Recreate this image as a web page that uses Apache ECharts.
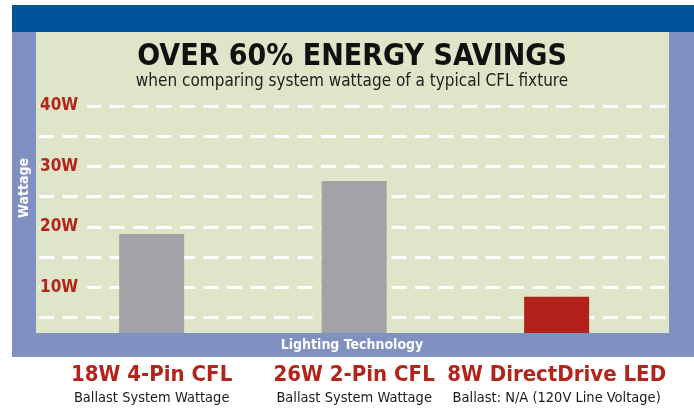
<!DOCTYPE html>
<html>
<head>
<meta charset="utf-8">
<script src="https://cdn.jsdelivr.net/npm/echarts@6/dist/echarts.min.js"></script>
<style>
  html, body { margin: 0; padding: 0; background: #fff; }
  #container { width: 694px; height: 411px; }
</style>
</head>
<body>
<div id="container"></div>
<script>
// data
const categories = ['18W 4-Pin CFL', '26W 2-Pin CFL', '8W DirectDrive LED'];
const subLabels = ['Ballast System Wattage', 'Ballast System Wattage', 'Ballast: N/A (120V Line Voltage)'];
const wattage = [18.8, 27.6, 8.4];
const barColors = ['#a2a3a7', '#a2a3a7', '#b2221a'];
const yMin = 0;
const yMax = 40;
const yStep = 5;

const NARROW = '"Liberation Sans Narrow", "DejaVu Sans Condensed", sans-serif';
const RED = '#b3241b';
const FRAME = '#7f90c1';
const PLOT = '#dfe5c8';

let dom = document.getElementById('container');
let myChart = echarts.init(dom);

// grid 0 carries the dashed lines across the whole plot, grid 1 carries the bars
const gridTop = 106;
const gridBottom = 63.4;

let option = {
  animation: false,
  title: {
    text: 'OVER 60% ENERGY SAVINGS',
    subtext: 'when comparing system wattage of a typical CFL fixture',
    left: 347,
    top: 37,
    textAlign: 'center',
    itemGap: 1,
    textStyle: { fontFamily: NARROW, fontWeight: 'bold', fontSize: 30, color: '#111' },
    subtextStyle: { fontFamily: NARROW, fontSize: 17, color: '#222' }
  },
  grid: [
    { left: 36, right: 25, top: gridTop, bottom: gridBottom },
    { left: 50.4, right: 36.1, top: gridTop, bottom: gridBottom }
  ],
  xAxis: [
    { gridIndex: 0, type: 'value', show: false },
    {
      gridIndex: 1,
      type: 'category',
      data: categories,
      axisLine: { show: false },
      axisTick: { show: false },
      axisLabel: {
        interval: 0,
        margin: 15,
        formatter: function (value, idx) {
          return '{n|' + value + '}\n{s|' + subLabels[idx] + '}';
        },
        rich: {
          n: { fontFamily: NARROW, fontWeight: 'bold', fontSize: 22, lineHeight: 26, color: RED },
          s: { fontFamily: NARROW, fontSize: 14.5, lineHeight: 20, color: '#1a1a1a' }
        }
      }
    }
  ],
  yAxis: [
    {
      gridIndex: 0,
      type: 'value',
      min: yMin,
      max: yMax,
      interval: yStep,
      axisLine: { show: false },
      axisTick: { show: false },
      axisLabel: {
        inside: true,
        margin: 4,
        verticalAlign: 'middle',
        fontFamily: NARROW,
        fontWeight: 'bold',
        fontSize: 17,
        color: RED,
        backgroundColor: PLOT,
        padding: [0, 9, 0, 0],
        formatter: function (v) {
          return v > 0 && v % 10 === 0 ? v + 'W' : '';
        }
      },
      splitLine: {
        show: true,
        lineStyle: { color: '#ffffff', width: 3, type: [15, 8.5], dashOffset: -3 }
      },
      z: 1
    },
    { gridIndex: 1, type: 'value', min: yMin, max: yMax, show: false }
  ],
  series: [{
    type: 'bar',
    xAxisIndex: 1,
    yAxisIndex: 1,
    barWidth: 65,
    z: 3,
    data: wattage.map(function (v, i) {
      return { value: v, itemStyle: { color: barColors[i] } };
    })
  }],
  graphic: {
    elements: [
      // frame behind the plot
      { type: 'rect', z: -10, shape: { x: 12, y: 5, width: 682, height: 27 }, style: { fill: '#00559a' } },
      { type: 'rect', z: -10, shape: { x: 12, y: 32, width: 682, height: 325 }, style: { fill: FRAME } },
      { type: 'rect', z: -9, shape: { x: 36, y: 32, width: 633, height: 301 }, style: { fill: PLOT } },
      // bottom band covers the part of the axis under 333px
      { type: 'rect', z: 20, shape: { x: 12, y: 333, width: 682, height: 24 }, style: { fill: FRAME } },
      {
        type: 'text', z: 21, x: 352, y: 345,
        style: { text: 'Lighting Technology', fill: '#fff', font: 'bold 14px ' + NARROW, align: 'center', verticalAlign: 'middle' }
      },
      {
        type: 'text', z: 21, x: 24, y: 188, rotation: Math.PI / 2,
        style: { text: 'Wattage', fill: '#fff', font: 'bold 14px ' + NARROW, align: 'center', verticalAlign: 'middle' }
      }
    ]
  }
};

myChart.setOption(option);
</script>
</body>
</html>
